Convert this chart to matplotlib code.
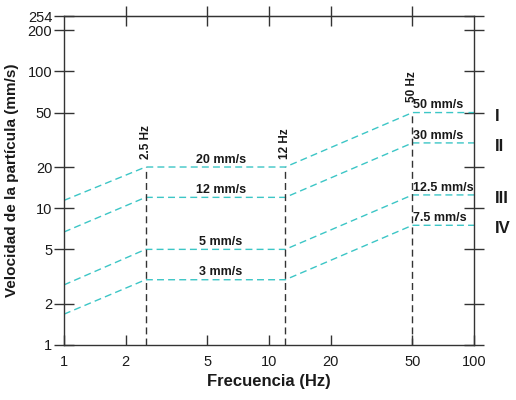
import matplotlib
matplotlib.use("Agg")
import matplotlib.pyplot as plt
from matplotlib.ticker import FixedLocator, NullLocator, FixedFormatter, NullFormatter

plt.rcParams['font.family'] = ['Liberation Sans', 'DejaVu Sans']

# Data
freq = [1, 2.5, 12, 50, 100]
line_I = [11.4, 20, 20, 50, 50]
line_II = [6.7, 12, 12, 30, 30]
line_III = [2.75, 5, 5, 12.5, 12.5]
line_IV = [1.68, 3, 3, 7.5, 7.5]
series = [line_I, line_II, line_III, line_IV]
roman = ["I", "II", "III", "IV"]
mid_labels = ["20 mm/s", "12 mm/s", "5 mm/s", "3 mm/s"]
end_labels = ["50 mm/s", "30 mm/s", "12.5 mm/s", "7.5 mm/s"]
break_freqs = [2.5, 12, 50]
break_tops = [20, 20, 50]
break_labels = ["2.5 Hz", "12 Hz", "50 Hz"]
xticks = [1, 2, 5, 10, 20, 50, 100]
yticks = [1, 2, 5, 10, 20, 50, 100, 200, 254]

fig = plt.figure(figsize=(5.16, 4.0), dpi=100)
ax = fig.add_axes([0.124, 0.1375, 0.795, 0.8225])
ax.set_xscale('log')
ax.set_yscale('log')
ax.set_xlim(1, 100)
ax.set_ylim(1, 254)

cyan = '#3cc6c6'
dark = '#333333'
txt = '#1a1a1a'
for s in series:
    ax.plot(freq, s, color=cyan, lw=1.0, dashes=(5, 3))

for f, t in zip(break_freqs, break_tops):
    ax.plot([f, f], [1, t], color=dark, lw=1.0, dashes=(5, 3))

# labels
for lab, v in zip(mid_labels, series):
    ax.text(5.8, v[1] * 1.025, lab, ha='center', va='bottom', fontsize=9, fontweight='bold', color=txt)
for lab, v in zip(end_labels, series):
    ax.text(50.5, v[3] * 1.02, lab, ha='left', va='bottom', fontsize=9, fontweight='bold', color=txt)
for lab, f, t, k in zip(break_labels, break_freqs, break_tops, [1.14, 1.14, 1.2]):
    ax.text(f, t * k, lab, rotation=90, ha='center', va='bottom', fontsize=8.5, fontweight='bold', color=txt)
for lab, v in zip(roman, series):
    ax.text(1.05, v[3] / 1.06, lab, transform=ax.get_yaxis_transform(), ha='left', va='center',
            fontsize=12, fontweight='bold', color=txt)

for sp in ax.spines.values():
    sp.set_color(dark)
    sp.set_linewidth(1.0)

ax.xaxis.set_major_locator(FixedLocator(xticks))
ax.xaxis.set_major_formatter(FixedFormatter([str(x) for x in xticks]))
ax.xaxis.set_minor_locator(NullLocator())
ax.yaxis.set_major_locator(FixedLocator(yticks))
ax.yaxis.set_major_formatter(FixedFormatter([str(y) for y in yticks]))
ax.yaxis.set_minor_locator(NullLocator())

ax.tick_params(axis='x', which='major', direction='in', length=7, width=1, color=dark,
               top=False, labelsize=10.5, pad=7, labelcolor=txt)
ax.tick_params(axis='y', which='major', direction='inout', length=15, width=1, color=dark,
               right=True, labelsize=10.5, pad=1, labelcolor=txt)

# top ticks crossing the spine
top = ax.secondary_xaxis('top')
top.xaxis.set_major_locator(FixedLocator(xticks[1:-1]))
top.xaxis.set_minor_locator(NullLocator())
top.xaxis.set_major_formatter(NullFormatter())
top.tick_params(axis='x', which='major', direction='inout', length=14, width=1, color=dark)
top.spines['top'].set_color(dark)

ax.set_xlabel('Frecuencia (Hz)', fontsize=12, fontweight='bold', labelpad=4, color=txt)
ax.set_ylabel('Velocidad de la partícula (mm/s)', fontsize=11, fontweight='bold', labelpad=6, color=txt)

fig.savefig('out.png', dpi=100)
